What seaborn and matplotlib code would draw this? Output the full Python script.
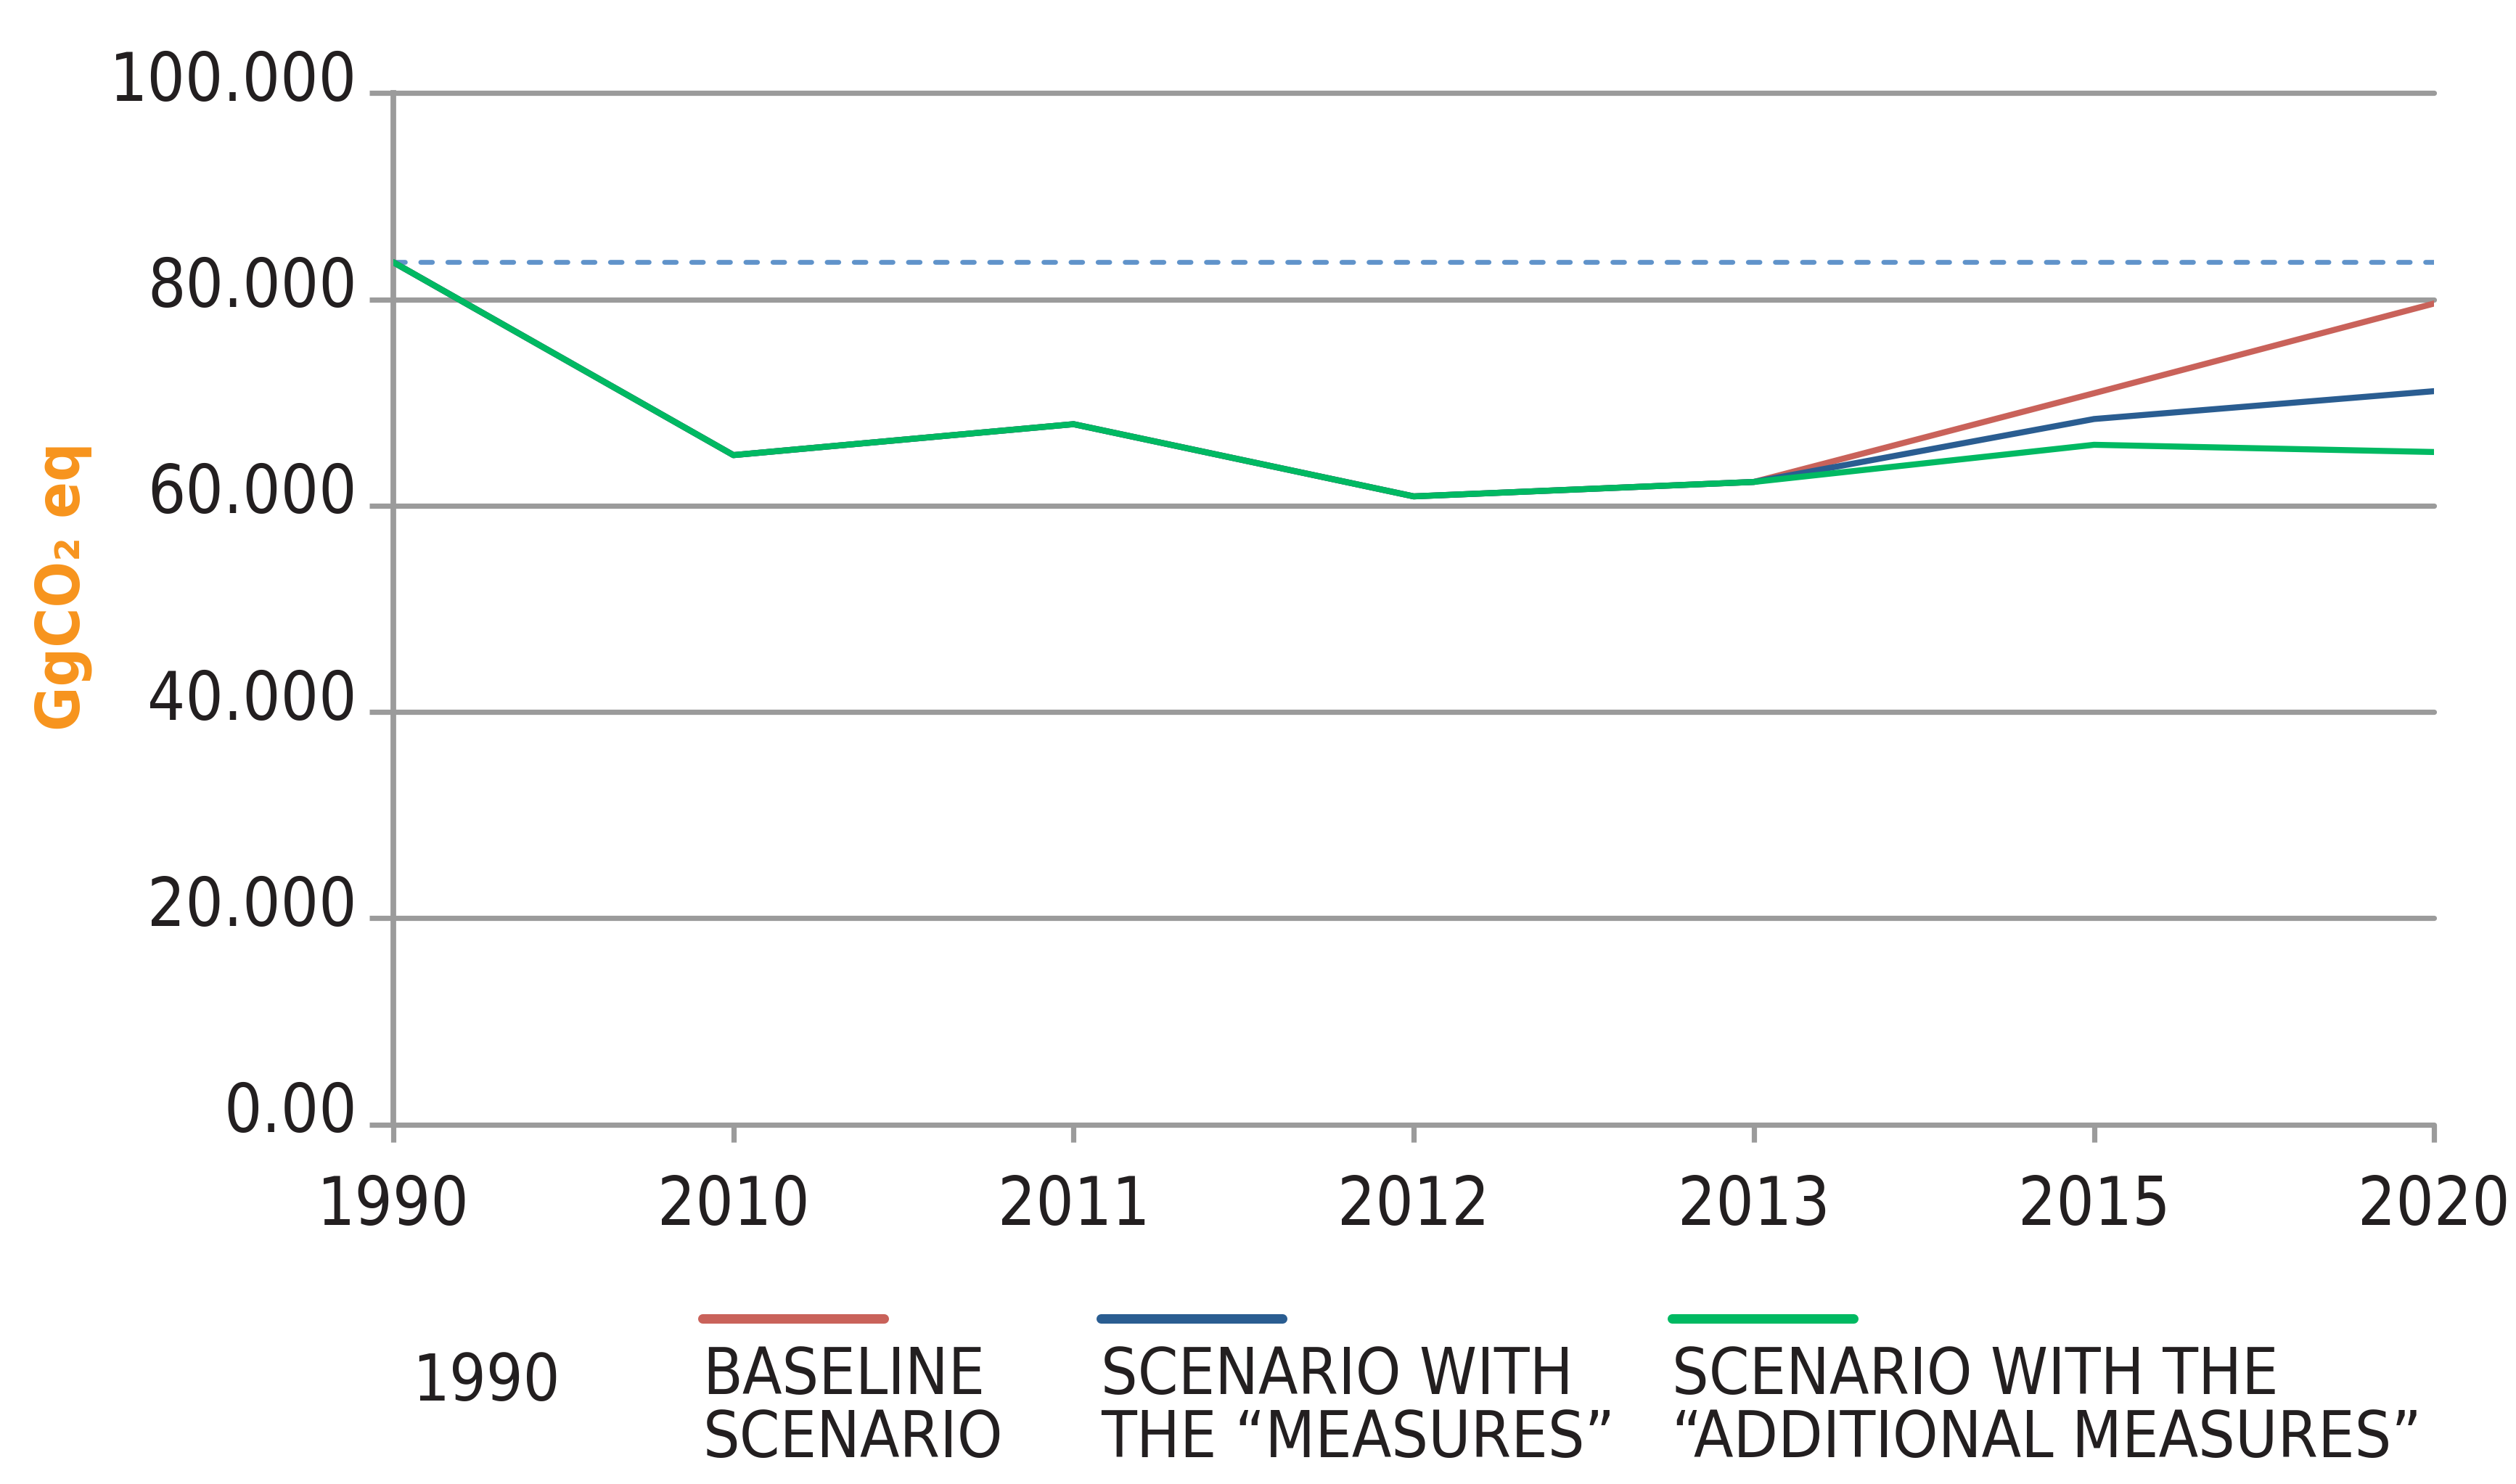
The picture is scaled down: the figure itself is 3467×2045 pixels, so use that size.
import pandas as pd
import seaborn as sns
import matplotlib.pyplot as plt
import matplotlib.transforms as mtransforms
from matplotlib.lines import Line2D

# data
years = ["1990", "2010", "2011", "2012", "2013", "2015", "2020"]
baseline = [83600, 64900, 67900, 60900, 62300, 70900, 79600]
measures = [83600, 64900, 67900, 60900, 62300, 68400, 71100]
additional = [83600, 64900, 67900, 60900, 62300, 65900, 65200]
level_1990 = 83600

y_ticks = [0, 20000, 40000, 60000, 80000, 100000]
y_tick_labels = ["0.00", "20.000", "40.000", "60.000", "80.000", "100.000"]

names = ["BASELINE\nSCENARIO",
         "SCENARIO WITH\nTHE \u201cMEASURES\u201d",
         "SCENARIO WITH THE\n\u201cADDITIONAL MEASURES\u201d"]
colors = ["#C9625A", "#2A5D91", "#00B962"]

GRAY = "#9B9B9B"
TXT = "#231F20"

sns.set_theme(style="white")
plt.rcParams["font.family"] = ["DejaVu Sans"]
plt.rcParams["font.stretch"] = "condensed"

df = pd.DataFrame({
    "year": years * 3,
    "value": baseline + measures + additional,
    "scenario": [names[0]] * 7 + [names[1]] * 7 + [names[2]] * 7,
})

fig = plt.figure(figsize=(17.335, 10.225), dpi=200)
ax = fig.add_axes([0.1563, 0.2422, 0.8112, 0.6951])

# 1990 reference level
ax.axhline(level_1990, color="#6093CA", lw=2.4, ls=(0, (2.4, 3.2)),
           dash_capstyle="round", zorder=2)

sns.lineplot(data=df, x="year", y="value", hue="scenario", hue_order=names,
             palette=dict(zip(names, colors)), linewidth=3.0, sort=False,
             legend=False, ax=ax, zorder=3)
for ln in ax.get_lines():
    ln.set_solid_capstyle("round")

ax.set_xlim(0, 6)
ax.set_ylim(0, 100000)
ax.set_yticks(y_ticks)
ax.set_yticklabels(y_tick_labels)
ax.set_xlabel("")
ax.set_ylabel("")

for s in ["top", "right", "bottom"]:
    ax.spines[s].set_visible(False)
ax.spines["left"].set_color(GRAY)
ax.spines["left"].set_linewidth(2.8)

ax.grid(axis="y", color=GRAY, lw=2.6)
ax.grid(axis="x", visible=False)
for gl in ax.get_ygridlines():
    gl.set_clip_on(False)

ax.tick_params(axis="y", length=12, width=2.6, color=GRAY, pad=6,
               labelsize=33, labelcolor=TXT, left=True)
ax.tick_params(axis="x", length=8.7, width=2.6, color=GRAY, pad=15.5,
               labelsize=33, labelcolor=TXT, bottom=True)

shift = mtransforms.ScaledTranslation(0, 9 / 72, fig.dpi_scale_trans)
for lbl in ax.get_yticklabels():
    lbl.set_transform(lbl.get_transform() + shift)

fig.text(0.025, 0.605, "GgCO\u2082 eq", rotation=90, ha="center", va="center",
         color="#F7941D", fontsize=30, fontweight="semibold")

# legend below the chart
fig.text(0.164, 0.068, "1990", ha="left", va="center", fontsize=32, color=TXT)
legend_x = [0.2793, 0.4375, 0.6645]
for x0, name, c in zip(legend_x, names, colors):
    fig.add_artist(Line2D([x0, x0 + 0.0721], [0.1114, 0.1114],
                          transform=fig.transFigure, color=c, lw=4.7,
                          solid_capstyle="round"))
    fig.text(x0, 0.094, name, ha="left", va="top", fontsize=32, color=TXT,
             linespacing=1.0)

fig.savefig("out.png", dpi=200, facecolor="white")
